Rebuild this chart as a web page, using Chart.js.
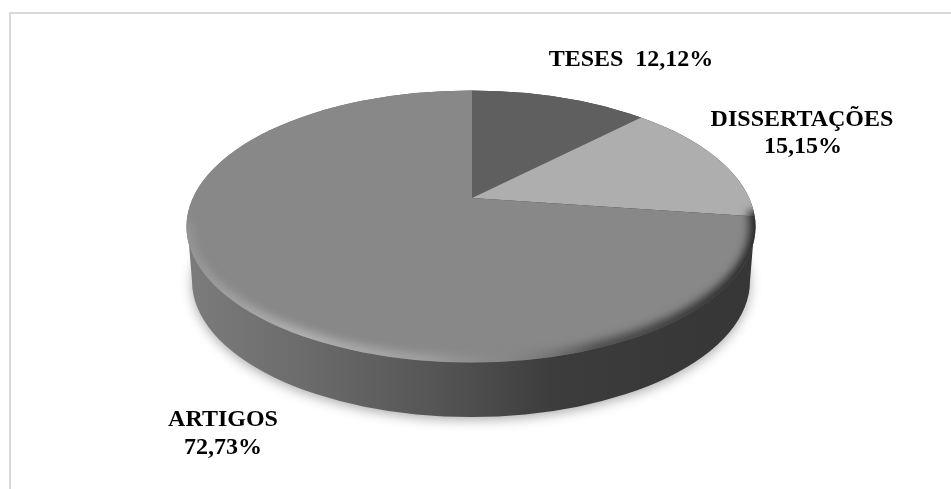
<!DOCTYPE html>
<html>
<head>
<meta charset="utf-8">
<script src="https://cdn.jsdelivr.net/npm/chart.js@4"></script>
<style>
  html, body { margin: 0; background: #fff; overflow: hidden; }
  #frame { position: absolute; left: 9px; top: 12px; width: 942px; height: 477px; border-top: 2px solid #d9d9d9; border-left: 2px solid #d9d9d9; box-sizing: border-box; }
  #pie { position: absolute; left: 0; top: 0; }
</style>
</head>
<body>
<div id="frame"></div>
<canvas id="pie" width="951" height="489"></canvas>
<script>
const categories = ['TESES', 'DISSERTAÇÕES', 'ARTIGOS'];
const shares = [12.12, 15.15, 72.73];
const sliceColors = ['#5f5f5f', '#aeaeae', '#888888'];

// where the text goes, one row per label
const labelRows = [
  [{ x: 631, y: 60, text: i => `${categories[i]}  ${pct(i)}` }],
  [{ x: 802, y: 120, text: i => categories[i] }, { x: 803, y: 147, text: i => pct(i) }],
  [{ x: 223, y: 420, text: i => categories[i] }, { x: 223, y: 448, text: i => pct(i) }]
];

// top face and the bottom edge of the disc, the picture is in perspective so
// the slices meet above the middle of the ellipse
const face = { x: 471, y: 226.5, rx: 284.5, ry: 136 };
const base = { x: 471, y: 281, rx: 279, ry: 136 };
const tip = { x: 472, y: 198 };
const tilt = 0.454;

function pct(i){
  return shares[i].toFixed(2).replace('.', ',') + '%';
}

function ellipse(ctx, e){
  ctx.beginPath();
  ctx.ellipse(e.x, e.y, e.rx, e.ry, 0, 0, Math.PI * 2);
}

function drawSide(ctx){
  const grad = ctx.createLinearGradient(face.x - face.rx, 0, face.x + face.rx, 0);
  grad.addColorStop(0, '#7c7c7c');
  grad.addColorStop(0.2, '#6c6c6c');
  grad.addColorStop(0.45, '#545454');
  grad.addColorStop(0.65, '#3c3c3c');
  grad.addColorStop(1, '#363636');

  ctx.save();
  ctx.shadowColor = 'rgba(0,0,0,0.32)';
  ctx.shadowBlur = 12;
  ctx.shadowOffsetY = 3;
  ctx.fillStyle = grad;
  ellipse(ctx, base);
  ctx.fill();
  ctx.restore();

  ctx.fillStyle = grad;
  ctx.beginPath();
  ctx.moveTo(face.x - face.rx + 1, face.y);
  ctx.lineTo(base.x - base.rx, base.y);
  ctx.lineTo(base.x + base.rx, base.y);
  ctx.lineTo(face.x + face.rx - 1, face.y);
  ctx.closePath();
  ctx.fill();
  ellipse(ctx, face);
  ctx.fill();
}

function drawBevel(ctx){
  const grad = ctx.createLinearGradient(face.x - face.rx, 0, face.x + face.rx, 0);
  grad.addColorStop(0, 'rgba(150,150,150,0.9)');
  grad.addColorStop(0.2, 'rgba(185,185,185,0.85)');
  grad.addColorStop(0.42, 'rgba(170,170,170,0.7)');
  grad.addColorStop(0.56, 'rgba(136,136,136,0.3)');
  grad.addColorStop(0.72, 'rgba(60,60,60,0.75)');
  grad.addColorStop(1, 'rgba(40,40,40,1)');

  ctx.save();
  ellipse(ctx, face);
  ctx.clip();
  ctx.filter = 'blur(4px)';
  ctx.strokeStyle = grad;
  ctx.lineWidth = 16;
  // only the front half of the rim catches the light
  ctx.beginPath();
  ctx.ellipse(face.x, face.y, face.rx + 2, face.ry + 1, 0, -0.12, Math.PI + 0.02);
  ctx.stroke();
  ctx.restore();
}

function drawLabels(ctx){
  ctx.save();
  ctx.fillStyle = '#000';
  ctx.font = 'bold 24px "Liberation Serif"';
  ctx.textAlign = 'center';
  ctx.textBaseline = 'middle';
  labelRows.forEach((rows, i) => {
    rows.forEach(r => ctx.fillText(r.text(i), r.x, r.y));
  });
  ctx.restore();
}

const disc3d = {
  id: 'disc3d',
  beforeDatasetsDraw(chart){
    const ctx = chart.ctx;
    const arc = chart.getDatasetMeta(0).data[0];
    drawSide(ctx);
    ctx.save();
    ellipse(ctx, face);
    ctx.clip();
    // library pie is laid flat, its rim falls outside the clip
    ctx.translate(tip.x, tip.y);
    ctx.scale(1.6, 1.6 * tilt);
    ctx.translate(-arc.x, -arc.y);
  },
  afterDatasetsDraw(chart){
    const ctx = chart.ctx;
    ctx.restore();
    drawBevel(ctx);
    drawLabels(ctx);
  }
};

new Chart(document.getElementById('pie'), {
  type: 'pie',
  data: {
    labels: categories,
    datasets: [{ data: shares, backgroundColor: sliceColors, borderWidth: 0, clip: false }]
  },
  options: {
    responsive: false,
    animation: false,
    plugins: { legend: { display: false }, tooltip: { enabled: false } }
  },
  plugins: [disc3d]
});
</script>
</body>
</html>
